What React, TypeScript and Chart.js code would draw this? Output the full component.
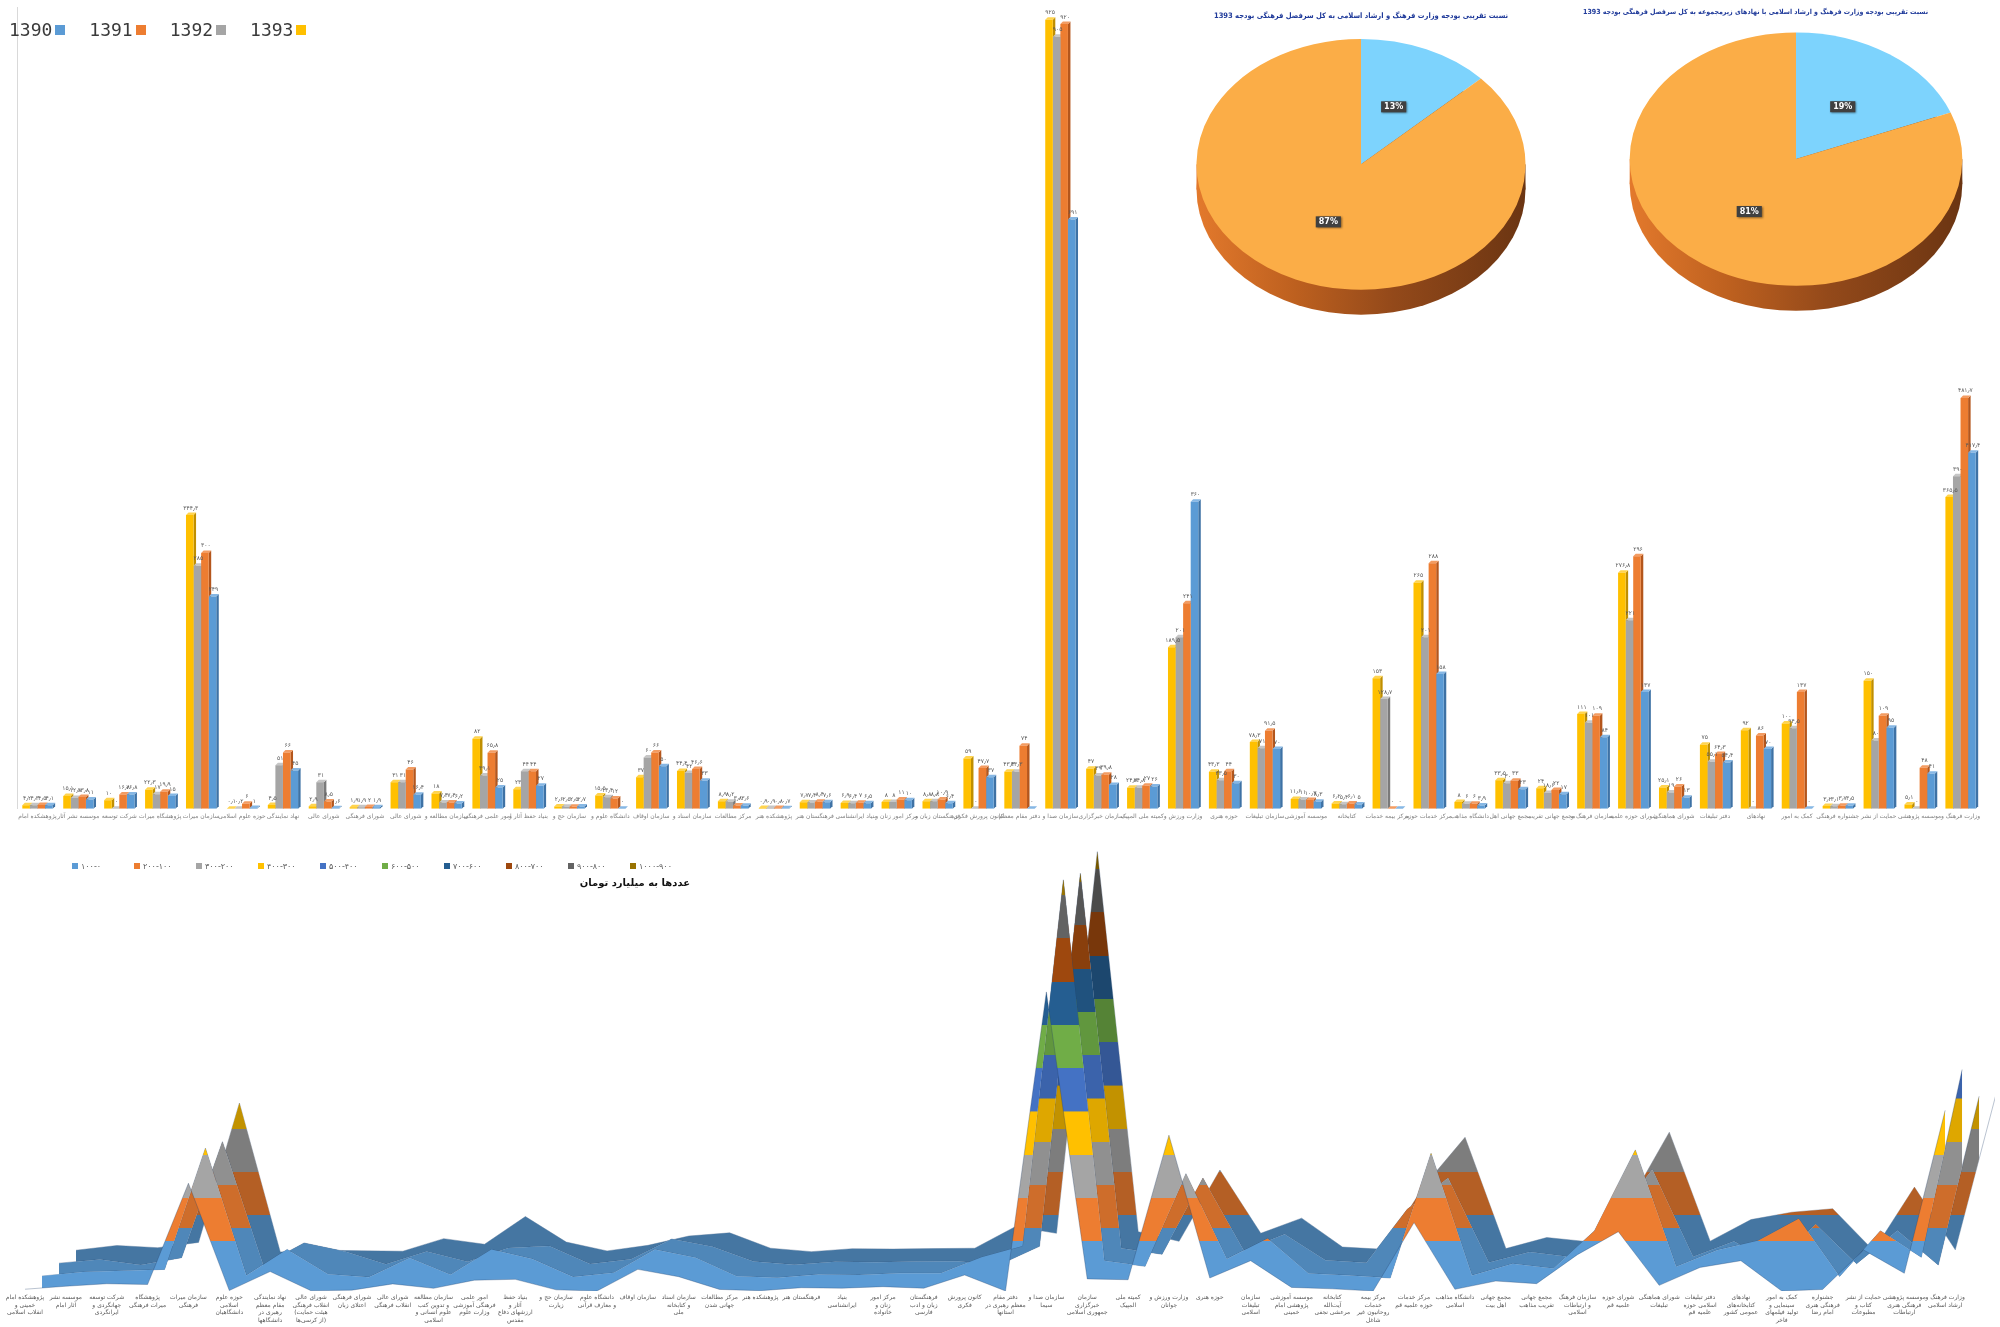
import React, { useEffect, useRef } from "react";
import { Chart, registerables } from "chart.js";

Chart.register(...registerables);
Chart.defaults.font.family = "'DejaVu Sans', sans-serif";
Chart.defaults.color = "#595959";

// ---------------- data ----------------
const categories: string[] = [
  "پژوهشکده امام خمینی و انقلاب اسلامی",
  "موسسه نشر آثار امام",
  "شرکت توسعه جهانگردی و ایرانگردی",
  "پژوهشگاه میراث فرهنگی",
  "سازمان میراث فرهنگی",
  "حوزه علوم اسلامی دانشگاهیان",
  "نهاد نمایندگی مقام معظم رهبری در دانشگاهها",
  "شورای عالی انقلاب فرهنگی (هیئت حمایت از کرسی‌ها)",
  "شورای فرهنگی اعتلای زبان",
  "شورای عالی انقلاب فرهنگی",
  "سازمان مطالعه و تدوین کتب علوم انسانی و اسلامی",
  "امور علمی فرهنگی آموزشی وزارت علوم",
  "بنیاد حفظ آثار و ارزشهای دفاع مقدس",
  "سازمان حج و زیارت",
  "دانشگاه علوم و معارف قرآنی",
  "سازمان اوقاف",
  "سازمان اسناد و کتابخانه ملی",
  "مرکز مطالعات جهانی شدن",
  "پژوهشکده هنر",
  "فرهنگستان هنر",
  "بنیاد ایرانشناسی",
  "مرکز امور زنان و خانواده",
  "فرهنگستان زبان و ادب فارسی",
  "کانون پرورش فکری",
  "دفتر مقام معظم رهبری در استانها",
  "سازمان صدا و سیما",
  "سازمان خبرگزاری جمهوری اسلامی",
  "کمیته ملی المپیک",
  "وزارت ورزش و جوانان",
  "حوزه هنری",
  "سازمان تبلیغات اسلامی",
  "موسسه آموزشی پژوهشی امام خمینی",
  "کتابخانه آیت‌الله مرعشی نجفی",
  "مرکز بیمه خدمات روحانیون غیر شاغل",
  "مرکز خدمات حوزه علمیه قم",
  "دانشگاه مذاهب اسلامی",
  "مجمع جهانی اهل بیت",
  "مجمع جهانی تقریب مذاهب",
  "سازمان فرهنگ و ارتباطات اسلامی",
  "شورای حوزه علمیه قم",
  "شورای هماهنگی تبلیغات",
  "دفتر تبلیغات اسلامی حوزه علمیه قم",
  "نهادهای کتابخانه‌های عمومی کشور",
  "کمک به امور سینمایی و تولید فیلمهای فاخر",
  "جشنواره فرهنگی هنری امام رضا",
  "حمایت از نشر کتاب و مطبوعات",
  "موسسه پژوهشی فرهنگی هنری ارتباطات",
  "وزارت فرهنگ و ارشاد اسلامی",
];

const v1390 = [4.1, 11, 16.8, 15, 249, 1, 45, 0.6, 1.9, 16.4, 6.2, 25, 27, 2.7, 0, 50, 33, 3.6, 0.7, 7.6, 6.5, 10, 6.4, 37, 0, 691, 28, 26, 360, 30, 70, 8.3, 5, 0, 158, 3.9, 23, 17, 84, 137, 13, 54.4, 70, 0, 3.5, 95, 41, 417.4];
const v1391 = [4.5, 13.8, 16.8, 19.9, 300, 6, 66, 8.5, 2, 46, 7.4, 65.8, 44, 2.5, 12, 66, 46.6, 3.8, 0.8, 8.4, 7, 11, 10.9, 47.7, 74, 920, 39.8, 27, 241, 44, 91.5, 10.3, 6.1, 0, 288, 6, 33, 22, 109, 296, 26, 64.3, 86, 137, 3.7, 109, 48, 481.7];
const v1392 = [4.3, 12.8, 0, 17, 285, 0.2, 51, 31, 1.9, 31, 7.4, 39.1, 44, 2.5, 13.4, 60, 42, 8.2, 0.9, 7.4, 6.4, 8, 8.8, 0, 43.3, 905, 39, 24.8, 201, 33.5, 71, 11, 5.4, 128.7, 201, 6, 30, 18.6, 101, 221, 19, 55.1, 0, 94.5, 3.1, 80, 0, 390];
const v1393 = [4.2, 15.1, 10, 22.3, 344.3, 0.1, 4.5, 2.9, 1.9, 31, 18, 82, 23, 2.6, 15.5, 37, 44.4, 8.9, 0.9, 7.7, 6.9, 8, 8.8, 59, 43.3, 925, 47, 24.8, 189.5, 43.3, 78.3, 11.6, 6.2, 153, 265, 8, 33.5, 24, 111, 276.8, 25.1, 75, 92, 100, 3.2, 150, 5.1, 365.5];

const seriesYears = ["1390", "1391", "1392", "1393"];
const seriesValues = [v1390, v1391, v1392, v1393];
const seriesColors = ["#5B9BD5", "#ED7D31", "#A5A5A5", "#FFC000"];
const seriesSide = ["#3E72A5", "#B4561C", "#7A7A7A", "#C08F00"];
const seriesTop = ["#86B7E4", "#F39C62", "#C6C6C6", "#FFD44F"];

const pie1Title = "نسبت تقریبی بودجه وزارت فرهنگ و ارشاد اسلامی به کل سرفصل فرهنگی بودجه 1393";
const pie1Labels = ["وزارت فرهنگ و ارشاد اسلامی", "سایر"];
const pie1Values = [13, 87];
const pie2Title = "نسبت تقریبی بودجه وزارت فرهنگ و ارشاد اسلامی با نهادهای زیرمجموعه به کل سرفصل فرهنگی بودجه 1393";
const pie2Labels = ["وزارت فرهنگ و ارشاد اسلامی و نهادهای زیرمجموعه", "سایر"];
const pie2Values = [19, 81];
const pieColors = ["#7DD3FD", "#FBAD47"];

const bandEdges = [0, 100, 200, 300, 400, 500, 600, 700, 800, 900, 1000];
const bandLabels = ["۱۰۰-۰", "۲۰۰-۱۰۰", "۳۰۰-۲۰۰", "۴۰۰-۳۰۰", "۵۰۰-۴۰۰", "۶۰۰-۵۰۰", "۷۰۰-۶۰۰", "۸۰۰-۷۰۰", "۹۰۰-۸۰۰", "۱۰۰۰-۹۰۰"];
const bandColors = ["#5B9BD5", "#ED7D31", "#A5A5A5", "#FFC000", "#4472C4", "#70AD47", "#255E91", "#9E480E", "#636363", "#997300"];
const surfaceUnit = "عددها به میلیارد تومان";

// ---------------- helpers ----------------
const faDigits = "۰۱۲۳۴۵۶۷۸۹";
function toFa(v: number): string {
  return String(Math.round(v * 10) / 10)
    .replace(/[0-9]/g, (d) => faDigits[+d])
    .replace(".", "٫");
}

function wrapLabel(text: string, max: number): string[] {
  const words = text.split(" ");
  const lines: string[] = [];
  let cur = "";
  for (const w of words) {
    if (cur && (cur + " " + w).length > max) {
      lines.push(cur);
      cur = w;
    } else {
      cur = cur ? cur + " " + w : w;
    }
  }
  if (cur) lines.push(cur);
  return lines;
}

function shade(hex: string, f: number): string {
  const n = parseInt(hex.slice(1), 16);
  const r = Math.min(255, Math.round(((n >> 16) & 255) * f));
  const g = Math.min(255, Math.round(((n >> 8) & 255) * f));
  const b = Math.min(255, Math.round((n & 255) * f));
  return `rgb(${r},${g},${b})`;
}

// ---------------- plugins ----------------
const bar3dPlugin = {
  id: "bar3d",
  beforeDatasetsDraw(chart: any) {
    const ctx = chart.ctx;
    const d = 2.5;
    chart.data.datasets.forEach((ds: any, di: number) => {
      const meta = chart.getDatasetMeta(di);
      meta.data.forEach((el: any) => {
        const { x, y, base, width } = el.getProps(["x", "y", "base", "width"], true);
        const l = x - width / 2;
        const r = x + width / 2;
        ctx.save();
        ctx.fillStyle = ds.sideColor;
        ctx.beginPath();
        ctx.moveTo(r, y);
        ctx.lineTo(r + d, y - d);
        ctx.lineTo(r + d, base - d);
        ctx.lineTo(r, base);
        ctx.closePath();
        ctx.fill();
        ctx.fillStyle = ds.topColor;
        ctx.beginPath();
        ctx.moveTo(l, y);
        ctx.lineTo(l + d, y - d);
        ctx.lineTo(r + d, y - d);
        ctx.lineTo(r, y);
        ctx.closePath();
        ctx.fill();
        ctx.restore();
      });
    });
  },
};

const barLabelPlugin = {
  id: "barLabels",
  afterDatasetsDraw(chart: any) {
    const ctx = chart.ctx;
    ctx.save();
    ctx.font = "6px 'DejaVu Sans', sans-serif";
    ctx.fillStyle = "#595959";
    ctx.textAlign = "center";
    ctx.textBaseline = "bottom";
    chart.data.datasets.forEach((ds: any, di: number) => {
      chart.getDatasetMeta(di).data.forEach((el: any, i: number) => {
        const { x, y } = el.getProps(["x", "y"], true);
        ctx.fillText(toFa(ds.data[i]), x + 1, y - 4);
      });
    });
    ctx.restore();
  },
};

const SQUASH = 0.762;
const DEPTH = 25;
const pie3dPlugin = {
  id: "pie3d",
  beforeDatasetsDraw(chart: any) {
    const ctx = chart.ctx;
    const p = chart.chartArea.top;
    const meta = chart.getDatasetMeta(0);
    ctx.save();
    ctx.translate(0, p);
    ctx.scale(1, SQUASH);
    ctx.translate(0, -p);
    const a = meta.data[0].getProps(["x", "y", "outerRadius"], true);
    const depth = DEPTH / SQUASH;
    const g = ctx.createLinearGradient(a.x - a.outerRadius, 0, a.x + a.outerRadius, 0);
    g.addColorStop(0, "#E3792C");
    g.addColorStop(0.3, "#BD601F");
    g.addColorStop(0.6, "#93491A");
    g.addColorStop(1, "#6B3512");
    ctx.fillStyle = g;
    ctx.fillRect(a.x - a.outerRadius, a.y, a.outerRadius * 2, depth);
    ctx.beginPath();
    ctx.arc(a.x, a.y + depth, a.outerRadius, 0, Math.PI * 2);
    ctx.fill();
  },
  afterDatasetsDraw(chart: any) {
    const ctx = chart.ctx;
    ctx.restore();
    const p = chart.chartArea.top;
    const meta = chart.getDatasetMeta(0);
    const data = chart.data.datasets[0].data as number[];
    const total = data.reduce((s, v) => s + v, 0);
    ctx.save();
    ctx.font = "bold 8px 'DejaVu Sans', sans-serif";
    ctx.textAlign = "center";
    ctx.textBaseline = "middle";
    meta.data.forEach((el: any, i: number) => {
      const { x, y, startAngle, endAngle, outerRadius } = el.getProps(["x", "y", "startAngle", "endAngle", "outerRadius"], true);
      const mid = (startAngle + endAngle) / 2;
      const r = outerRadius * 0.5;
      const lx = x + Math.cos(mid) * r;
      const ly = p + (y + Math.sin(mid) * r - p) * SQUASH;
      const text = Math.round((data[i] / total) * 100) + "%";
      const w = ctx.measureText(text).width + 6;
      const h = 11;
      ctx.shadowColor = "rgba(0,0,0,0.45)";
      ctx.shadowBlur = 2;
      ctx.shadowOffsetX = 1;
      ctx.shadowOffsetY = 1;
      ctx.fillStyle = "#404040";
      ctx.fillRect(lx - w / 2, ly - h / 2, w, h);
      ctx.shadowColor = "transparent";
      ctx.fillStyle = "#ffffff";
      ctx.fillText(text, lx, ly + 0.5);
    });
    ctx.restore();
  },
};

// ---------------- bar chart ----------------
function BarChart() {
  const ref = useRef<HTMLCanvasElement>(null);
  useEffect(() => {
    const order = [3, 2, 1, 0];
    const chart = new Chart(ref.current as HTMLCanvasElement, {
      type: "bar",
      data: {
        labels: categories.map((c) => wrapLabel(c, 16)[0]),
        datasets: order.map((k) => ({
          label: seriesYears[k],
          data: seriesValues[k],
          backgroundColor: seriesColors[k],
          sideColor: seriesSide[k],
          topColor: seriesTop[k],
          borderWidth: 0,
          categoryPercentage: 0.74,
          barPercentage: 1,
        })) as any,
      },
      options: {
        animation: false,
        responsive: false,
        events: [],
        layout: { padding: { left: 17, right: 19, top: 7, bottom: 0 } },
        plugins: { legend: { display: false }, tooltip: { enabled: false } },
        scales: {
          x: {
            grid: { display: false, drawTicks: false },
            border: { display: false },
            ticks: { font: { size: 6 }, color: "#7f7f7f", maxRotation: 0, minRotation: 0, autoSkip: false, padding: 4 },
          },
          y: {
            min: 0,
            max: 940,
            grid: { display: false, drawTicks: false },
            border: { display: true, color: "#d9d9d9" },
            ticks: { display: false },
          },
        },
      } as any,
      plugins: [bar3dPlugin, barLabelPlugin],
    });
    return () => chart.destroy();
  }, []);
  return <canvas ref={ref} width={2000} height={824} style={{ position: "absolute", left: 0, top: 0 }} />;
}

// ---------------- pie charts ----------------
function Pie3D(props: {
  values: number[];
  labels: string[];
  title: string;
  titleSize: number;
  titlePadding: { top: number; bottom: number };
  titleAlign: "start" | "center" | "end";
  left: number;
  width: number;
  height: number;
}) {
  const ref = useRef<HTMLCanvasElement>(null);
  useEffect(() => {
    const chart = new Chart(ref.current as HTMLCanvasElement, {
      type: "pie",
      data: {
        labels: props.labels,
        datasets: [{ data: props.values, backgroundColor: pieColors, borderWidth: 0 }],
      },
      options: {
        animation: false,
        responsive: false,
        events: [],
        layout: { padding: 0 },
        plugins: {
          legend: { display: false },
          tooltip: { enabled: false },
          title: {
            display: true,
            text: props.title,
            color: "#1F3A9A",
            align: props.titleAlign,
            font: { family: "'DejaVu Sans Condensed', 'DejaVu Sans', sans-serif", size: props.titleSize, weight: "bold" },
            padding: props.titlePadding,
          },
        },
      } as any,
      plugins: [pie3dPlugin],
    });
    return () => chart.destroy();
  }, []);
  return (
    <canvas
      ref={ref}
      width={props.width}
      height={props.height}
      style={{ position: "absolute", left: props.left, top: 0 }}
    />
  );
}

// ---------------- surface chart ----------------
const ROW_SHIFT_X = 0.416;
const ROW_SHIFT_Y = 30;
const Y_SPAN = 1042;
const X_MIN = -0.49;
const X_MAX = 48.22;
const pairShade = [1, 0.87, 0.76];

function bandGradient(chart: any, k: number) {
  const { ctx, chartArea } = chart;
  if (!chartArea) return bandColors[0];
  const ya = chart.scales["y" + k];
  const yb = chart.scales["y" + Math.min(k + 1, 3)];
  if (!ya || !yb) return bandColors[0];
  const top = bandEdges[bandEdges.length - 1];
  const p0 = (ya.getPixelForValue(0) + yb.getPixelForValue(0)) / 2;
  const p1 = (ya.getPixelForValue(top) + yb.getPixelForValue(top)) / 2;
  const g = ctx.createLinearGradient(0, p0, 0, p1);
  const f = pairShade[Math.min(k, pairShade.length - 1)];
  bandColors.forEach((c, j) => {
    const col = shade(c, f);
    g.addColorStop(bandEdges[j] / top, col);
    g.addColorStop(Math.max(0, bandEdges[j + 1] / top - 0.0005), col);
  });
  return g;
}

function SurfaceChart() {
  const ref = useRef<HTMLCanvasElement>(null);
  useEffect(() => {
    const scales: any = {};
    seriesValues.forEach((_, k) => {
      scales["x" + k] = {
        type: "linear",
        axis: "x",
        position: "bottom",
        display: k === 0,
        min: X_MIN - k * ROW_SHIFT_X,
        max: X_MAX - k * ROW_SHIFT_X,
        grid: { display: false, drawTicks: false },
        border: { display: false },
        ticks: {
          stepSize: 1,
          includeBounds: false,
          autoSkip: false,
          maxRotation: 0,
          minRotation: 0,
          padding: 3,
          color: "#595959",
          font: { size: 6, lineHeight: 1.25 },
          callback: (value: number) => {
            const i = Math.round(value);
            if (Math.abs(value - i) > 1e-6 || i < 0 || i >= categories.length) return "";
            return wrapLabel(categories[i], 13).slice(0, 4);
          },
        },
      };
      scales["y" + k] = {
        type: "linear",
        axis: "y",
        display: false,
        min: -k * ROW_SHIFT_Y,
        max: -k * ROW_SHIFT_Y + Y_SPAN,
      };
    });
    const chart = new Chart(ref.current as HTMLCanvasElement, {
      type: "line",
      data: {
        datasets: seriesValues.map((vals, k) => ({
          label: seriesYears[k],
          data: vals.map((v, i) => ({ x: i, y: v })),
          xAxisID: "x" + k,
          yAxisID: "y" + k,
          fill: k < seriesValues.length - 1 ? "+1" : false,
          backgroundColor: (c: any) => bandGradient(c.chart, k),
          borderColor: "rgba(35,65,105,0.45)",
          borderWidth: 0.7,
          pointRadius: 0,
          tension: 0,
        })) as any,
      },
      options: {
        animation: false,
        responsive: false,
        events: [],
        layout: { padding: { top: 10, left: 5, right: 5, bottom: 0 } },
        plugins: { legend: { display: false }, tooltip: { enabled: false } },
        scales,
      } as any,
    });
    return () => chart.destroy();
  }, []);
  return <canvas ref={ref} width={2000} height={497} style={{ position: "absolute", left: 0, top: 830 }} />;
}

// ---------------- legends ----------------
function BarLegend() {
  return (
    <div
      style={{
        position: "absolute",
        left: 9,
        top: 19,
        display: "flex",
        alignItems: "center",
        fontFamily: "'DejaVu Sans Mono', monospace",
        fontSize: 18,
        color: "#3a3a3a",
        lineHeight: "22px",
      }}
    >
      {seriesYears.map((y, k) => (
        <span key={y} style={{ display: "inline-flex", alignItems: "center", marginRight: 24 }}>
          {y}
          <span style={{ display: "inline-block", width: 10, height: 10, marginLeft: 3, background: seriesColors[k] }} />
        </span>
      ))}
    </div>
  );
}

function SurfaceLegend() {
  return (
    <div style={{ position: "absolute", left: 72, top: 859, width: 620, fontFamily: "'DejaVu Sans', sans-serif" }}>
      <div style={{ display: "flex", alignItems: "center", height: 14 }}>
        {bandLabels.map((l, j) => (
          <span key={l} style={{ display: "inline-flex", alignItems: "center", width: 63, fontSize: 8, color: "#595959" }}>
            <span style={{ display: "inline-block", width: 6, height: 6, marginRight: 3, background: bandColors[j] }} />
            {l}
          </span>
        ))}
      </div>
      <div dir="rtl" style={{ textAlign: "right", width: 618, fontSize: 10, fontWeight: "bold", color: "#111", marginTop: 4 }}>
        {surfaceUnit}
      </div>
    </div>
  );
}

export default function App() {
  return (
    <div style={{ position: "absolute", left: 0, top: 0, width: 2000, height: 1327, overflow: "hidden", background: "#ffffff" }}>
      <BarChart />
      <SurfaceChart />
      <Pie3D
        values={pie1Values}
        labels={pie1Labels}
        title={pie1Title}
        titleSize={7.5}
        titlePadding={{ top: 12, bottom: 18 }}
        titleAlign="center"
        left={1176}
        width={370}
        height={368}
      />
      <Pie3D
        values={pie2Values}
        labels={pie2Labels}
        title={pie2Title}
        titleSize={7}
        titlePadding={{ top: 8, bottom: 16 }}
        titleAlign="start"
        left={1583}
        width={426}
        height={365}
      />
      <BarLegend />
      <SurfaceLegend />
    </div>
  );
}
